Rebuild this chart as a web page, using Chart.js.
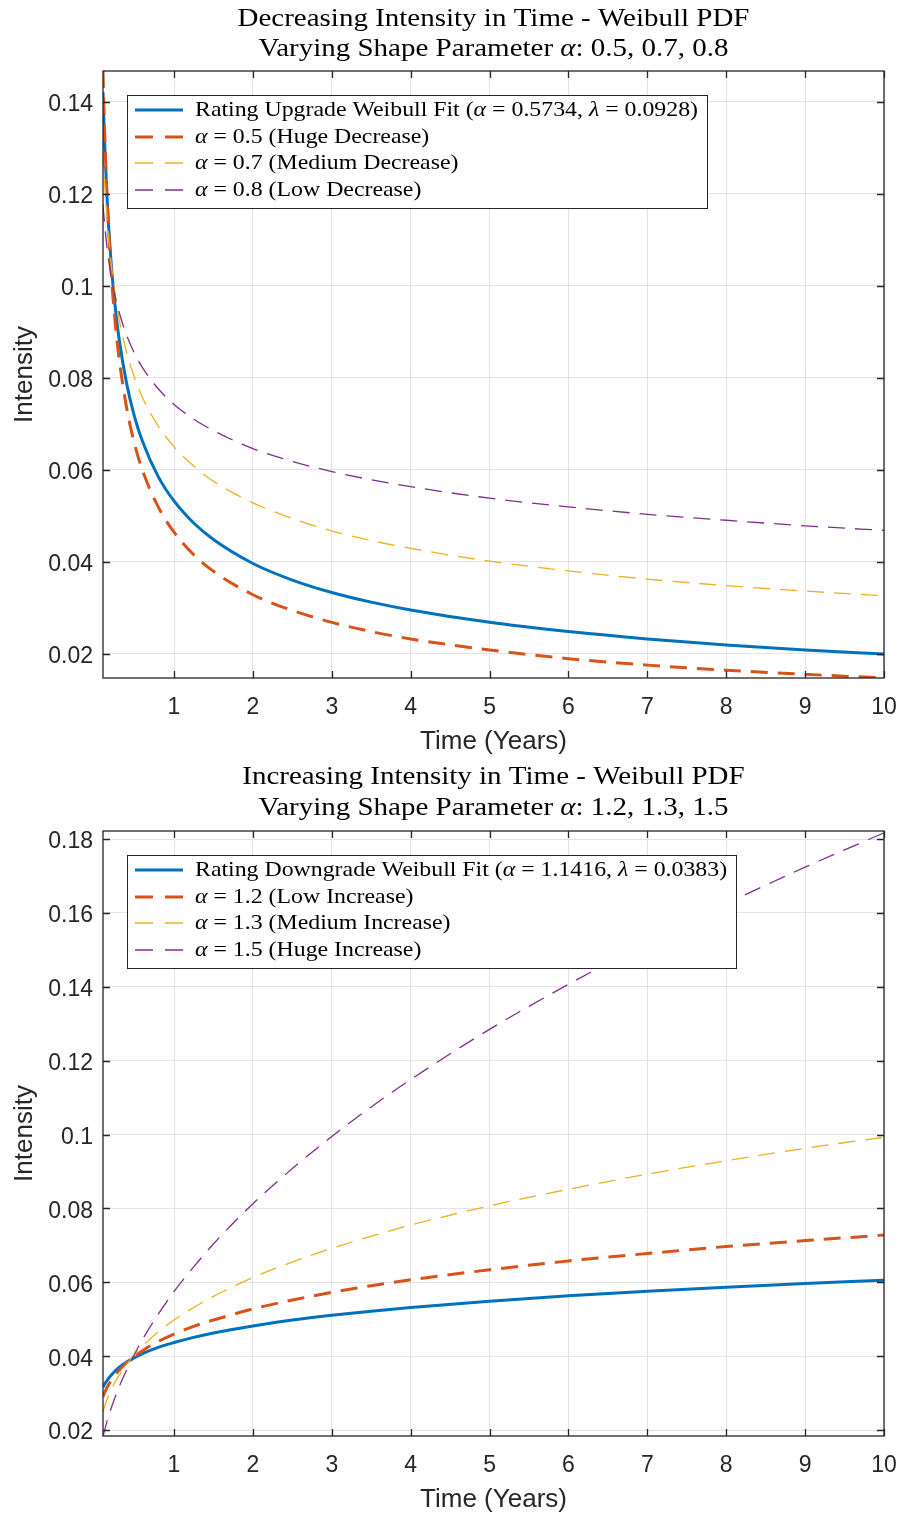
<!DOCTYPE html>
<html><head><meta charset="utf-8">
<script src="https://cdn.jsdelivr.net/npm/chart.js@4/dist/chart.umd.min.js"></script>
<style>
html,body{margin:0;padding:0;background:#fff;}
#wrap{position:relative;width:901px;height:1515px;background:#fff;}
canvas{position:absolute;left:0;}
</style></head><body>
<div id="wrap">
<canvas id="c1" width="901" height="757" style="top:0;width:901px;height:757px"></canvas>
<canvas id="c2" width="901" height="758" style="top:757px;width:901px;height:758px"></canvas>
</div>
<script>
// ---------- data ----------
const timeYears = [0.1, 0.12, 0.15, 0.2, 0.25, 0.3, 0.4, 0.5, 0.6, 0.8, 1, 1.25, 1.5, 2, 2.5, 3, 3.5, 4, 5, 6, 7, 8, 9, 10];

// top panel: decreasing intensity
const upgradeFit = [0.1421, 0.1315, 0.1195, 0.1057, 0.0961, 0.0889, 0.0787, 0.0715, 0.0662, 0.0585, 0.0532, 0.0484, 0.0448, 0.0396, 0.0360, 0.0333, 0.0312, 0.0295, 0.0268, 0.0248, 0.0232, 0.0219, 0.0208, 0.0199];
const alpha05 = [0.1467, 0.1340, 0.1198, 0.1038, 0.0928, 0.0847, 0.0734, 0.0656, 0.0599, 0.0519, 0.0464, 0.0415, 0.0379, 0.0328, 0.0294, 0.0268, 0.0248, 0.0232, 0.0208, 0.0189, 0.0175, 0.0164, 0.0155, 0.0147];
const alpha07 = [0.1296, 0.1227, 0.1148, 0.1053, 0.0985, 0.0932, 0.0855, 0.0800, 0.0757, 0.0695, 0.0650, 0.0608, 0.0575, 0.0528, 0.0494, 0.0467, 0.0446, 0.0429, 0.0401, 0.0380, 0.0362, 0.0348, 0.0336, 0.0326];
const alpha08 = [0.1177, 0.1135, 0.1085, 0.1024, 0.0980, 0.0945, 0.0892, 0.0853, 0.0822, 0.0776, 0.0742, 0.0710, 0.0685, 0.0646, 0.0618, 0.0596, 0.0578, 0.0563, 0.0538, 0.0519, 0.0503, 0.0490, 0.0478, 0.0468];

// bottom panel: increasing intensity
const downgradeFit = [0.0316, 0.0324, 0.0334, 0.0348, 0.0359, 0.0369, 0.0384, 0.0396, 0.0407, 0.0424, 0.0437, 0.0451, 0.0463, 0.0482, 0.0498, 0.0511, 0.0522, 0.0532, 0.0549, 0.0564, 0.0576, 0.0587, 0.0597, 0.0606];
const alpha12 = [0.0290, 0.0301, 0.0315, 0.0333, 0.0348, 0.0361, 0.0383, 0.0400, 0.0415, 0.0440, 0.0460, 0.0481, 0.0498, 0.0528, 0.0552, 0.0573, 0.0591, 0.0607, 0.0634, 0.0658, 0.0678, 0.0697, 0.0713, 0.0728];
const alpha13 = [0.0250, 0.0264, 0.0282, 0.0307, 0.0329, 0.0347, 0.0378, 0.0404, 0.0427, 0.0466, 0.0498, 0.0532, 0.0562, 0.0613, 0.0655, 0.0692, 0.0725, 0.0755, 0.0807, 0.0852, 0.0893, 0.0929, 0.0963, 0.0993];
const alpha15 = [0.0182, 0.0199, 0.0223, 0.0257, 0.0287, 0.0315, 0.0363, 0.0406, 0.0445, 0.0514, 0.0575, 0.0642, 0.0704, 0.0813, 0.0908, 0.0995, 0.1075, 0.1149, 0.1285, 0.1407, 0.1520, 0.1625, 0.1724, 0.1817];

const xTicks = [1, 2, 3, 4, 5, 6, 7, 8, 9, 10];
const yTicksTop = [0.02, 0.04, 0.06, 0.08, 0.10, 0.12, 0.14];
const yTicksBottom = [0.02, 0.04, 0.06, 0.08, 0.10, 0.12, 0.14, 0.16, 0.18];

const topTitle = ['Decreasing Intensity in Time - Weibull PDF', 'Varying Shape Parameter ', 'α', ': 0.5, 0.7, 0.8'];
const bottomTitle = ['Increasing Intensity in Time - Weibull PDF', 'Varying Shape Parameter ', 'α', ': 1.2, 1.3, 1.5'];
const topLegend = [
  [['Rating Upgrade Weibull Fit (', 0], ['α', 1], [' = 0.5734, ', 0], ['λ', 1], [' = 0.0928)', 0]],
  [['α', 1], [' = 0.5 (Huge Decrease)', 0]],
  [['α', 1], [' = 0.7 (Medium Decrease)', 0]],
  [['α', 1], [' = 0.8 (Low Decrease)', 0]]
];
const bottomLegend = [
  [['Rating Downgrade Weibull Fit (', 0], ['α', 1], [' = 1.1416, ', 0], ['λ', 1], [' = 0.0383)', 0]],
  [['α', 1], [' = 1.2 (Low Increase)', 0]],
  [['α', 1], [' = 1.3 (Medium Increase)', 0]],
  [['α', 1], [' = 1.5 (Huge Increase)', 0]]
];

// ---------- styling ----------
const INK = '#262626';
const COLORS = ['#0072BD', '#D95319', '#EDB120', '#7E2F8E'];
const WIDTHS = [3, 3, 1.3, 1.3];
const DASHES = [[], [17, 10], [17, 10], [17, 10]];
const SERIF = '"Liberation Serif", "DejaVu Serif", serif';
const SANS = '"Liberation Sans", Arial, Helvetica, sans-serif';

function segFont(it, size) { return (it ? 'italic ' : '') + size + 'px ' + SERIF; }
function measureSegs(ctx, segs, size) {
  let w = 0;
  segs.forEach(s => { ctx.font = segFont(s[1], size); w += ctx.measureText(s[0]).width; });
  return w;
}
function drawSegs(ctx, segs, x, y, size, sx, align) {
  const w = measureSegs(ctx, segs, size);
  ctx.save();
  ctx.translate(x, y);
  ctx.scale(sx, 1);
  ctx.textBaseline = 'middle';
  ctx.textAlign = 'left';
  ctx.fillStyle = '#000';
  let cx = align === 'center' ? -w / 2 : 0;
  segs.forEach(s => { ctx.font = segFont(s[1], size); ctx.fillText(s[0], cx, 0); cx += ctx.measureText(s[0]).width; });
  ctx.restore();
  return w * sx;
}

const TITLE_SIZE = 26, LEGEND_SIZE = 21;

const framePlugin = {
  id: 'frame',
  afterDatasetsDraw(chart, args, opts) {
    const {ctx, chartArea: a, scales: {x, y}} = chart;
    ctx.save();
    // axes box + inward ticks
    ctx.strokeStyle = INK;
    ctx.lineWidth = 1.3;
    ctx.strokeRect(a.left, a.top, a.right - a.left, a.bottom - a.top);
    const L = 7;
    ctx.beginPath();
    x.ticks.forEach(t => {
      const p = Math.round(x.getPixelForValue(t.value)) + 0.5;
      ctx.moveTo(p, a.bottom); ctx.lineTo(p, a.bottom - L);
      ctx.moveTo(p, a.top); ctx.lineTo(p, a.top + L);
    });
    y.ticks.forEach(t => {
      const p = Math.round(y.getPixelForValue(t.value)) + 0.5;
      ctx.moveTo(a.left, p); ctx.lineTo(a.left + L, p);
      ctx.moveTo(a.right, p); ctx.lineTo(a.right - L, p);
    });
    ctx.stroke();

    // legend
    const items = opts.items;
    const sxL = 503 / measureSegs(ctx, topLegend[0], LEGEND_SIZE);
    let maxW = 0;
    items.forEach(it => { maxW = Math.max(maxW, measureSegs(ctx, it, LEGEND_SIZE) * sxL); });
    const bl = a.left + 24, bt = a.top + 24;
    const bw = 68 + maxW + 9, bh = 113;
    ctx.fillStyle = '#fff';
    ctx.fillRect(bl, bt, bw, bh);
    ctx.strokeStyle = INK;
    ctx.lineWidth = 1;
    ctx.strokeRect(Math.round(bl) + 0.5, Math.round(bt) + 0.5, Math.round(bw), bh);
    const rows = [15, 42, 68, 95];
    items.forEach((it, i) => {
      const ry = bt + rows[i];
      ctx.save();
      ctx.strokeStyle = COLORS[i];
      ctx.lineWidth = WIDTHS[i];
      ctx.setLineDash(i === 0 ? [] : [18, 12]);
      ctx.beginPath();
      ctx.moveTo(bl + 8, ry); ctx.lineTo(bl + 56, ry);
      ctx.stroke();
      ctx.restore();
      drawSegs(ctx, it, bl + 68, ry, LEGEND_SIZE, sxL, 'left');
    });
    ctx.restore();
  },
  afterDraw(chart, args, opts) {
    const {ctx, chartArea: a} = chart;
    const t = opts.title;
    const sxT = 512 / measureSegs(ctx, [[topTitle[0], 0]], TITLE_SIZE);
    const cx = (a.left + a.right) / 2;
    drawSegs(ctx, [[t[0], 0]], cx, opts.titleY[0], TITLE_SIZE, sxT, 'center');
    drawSegs(ctx, [[t[1], 0], [t[2], 1], [t[3], 0]], cx, opts.titleY[1], TITLE_SIZE, sxT, 'center');
  }
};

function makeDatasets(series) {
  return series.map((ys, i) => ({
    data: timeYears.map((t, k) => ({x: t, y: ys[k]})),
    borderColor: COLORS[i],
    borderWidth: WIDTHS[i],
    borderDash: DASHES[i],
    pointRadius: 0,
    fill: false,
    cubicInterpolationMode: 'monotone',
    order: 4 - i
  }));
}

function fmt(v) { return String(Number(v.toFixed(2))); }

function makeChart(id, series, yMin, yMax, yTicks, title, legend, padTop, titleY) {
  return new Chart(document.getElementById(id), {
    type: 'line',
    data: {datasets: makeDatasets(series)},
    options: {
      responsive: false,
      animation: false,
      events: [],
      layout: {padding: {top: padTop, right: 17, left: 0, bottom: 0}},
      plugins: {
        legend: {display: false},
        title: {display: false},
        tooltip: {enabled: false},
        frame: {items: legend, title: title, titleY: titleY}
      },
      scales: {
        x: {
          type: 'linear', min: 0.1, max: 10,
          afterBuildTicks: s => { s.ticks = xTicks.map(v => ({value: v})); },
          afterFit: s => { s.height = 79; s.paddingLeft = 0; s.paddingRight = 0; },
          grid: {color: '#e3e3e3', lineWidth: 1, drawTicks: false},
          border: {display: false},
          ticks: {color: INK, font: {family: SANS, size: 23}, padding: 16, maxRotation: 0, callback: v => fmt(v)},
          title: {display: true, text: 'Time (Years)', color: INK, font: {family: SANS, size: 26}, padding: {top: 0, bottom: 0}}
        },
        y: {
          type: 'linear', min: yMin, max: yMax,
          afterBuildTicks: s => { s.ticks = yTicks.map(v => ({value: v})); },
          afterFit: s => { s.width = 103; s.paddingTop = 0; s.paddingBottom = 0; },
          grid: {color: '#e3e3e3', lineWidth: 1, drawTicks: false},
          border: {display: false},
          ticks: {color: INK, font: {family: SANS, size: 23}, padding: 10, labelOffset: 3, callback: v => fmt(v)},
          title: {display: true, text: 'Intensity', color: INK, font: {family: SANS, size: 26}, padding: {top: 9, bottom: 9}}
        }
      }
    },
    plugins: [framePlugin]
  });
}

makeChart('c1', [upgradeFit, alpha05, alpha07, alpha08], 0.0147, 0.1467, yTicksTop, topTitle, topLegend, 71, [19, 49]);
makeChart('c2', [downgradeFit, alpha12, alpha13, alpha15], 0.0184, 0.1822, yTicksBottom, bottomTitle, bottomLegend, 74, [20, 51]);
</script>
</body></html>
